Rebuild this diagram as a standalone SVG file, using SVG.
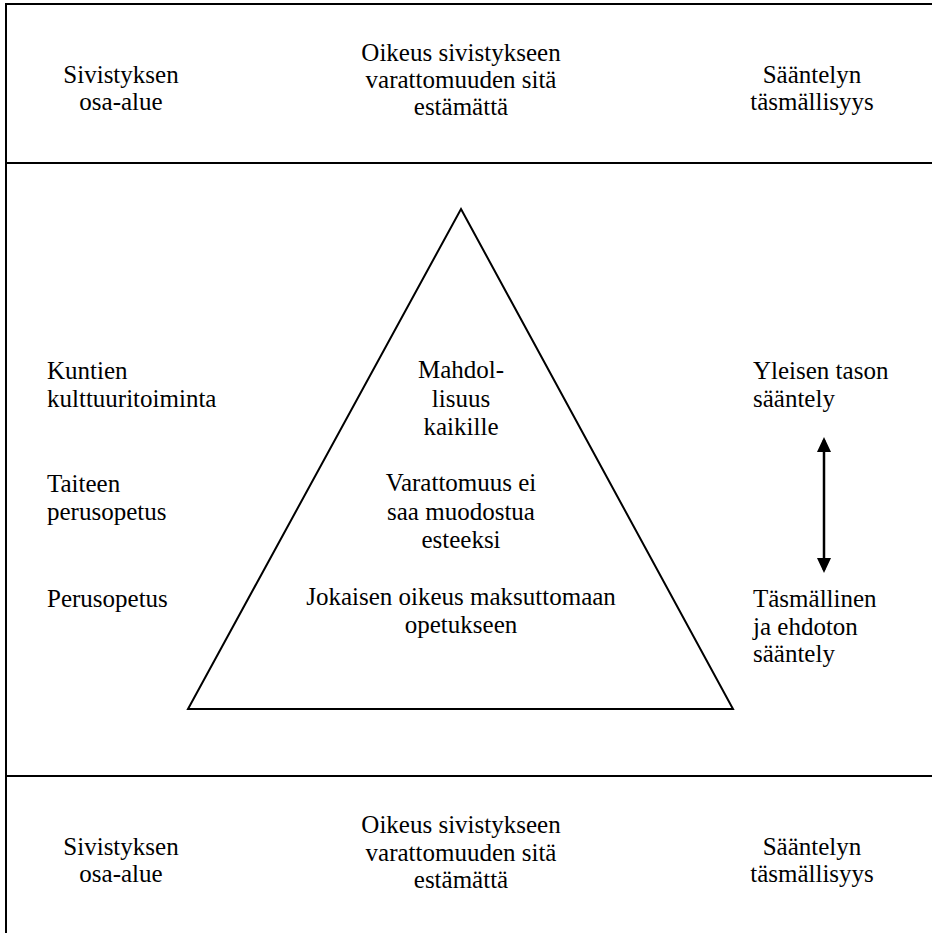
<svg xmlns="http://www.w3.org/2000/svg" width="932" height="933" viewBox="0 0 932 933">
  <defs>
    <style>
      text { font-family: 'Liberation Serif', 'DejaVu Serif', serif; font-size: 25px; fill: #000; }
      .c { text-anchor: middle; }
      .frame { stroke: #000; stroke-width: 2; fill: none; }
    </style>
    <marker id="ah" viewBox="0 0 15 14" markerUnits="userSpaceOnUse" markerWidth="15" markerHeight="14" refX="12" refY="7" orient="auto-start-reverse">
      <path d="M0,0 L15,7 L0,14 z" fill="#000"/>
    </marker>
  </defs>
  <rect x="0" y="0" width="932" height="933" fill="#fff"/>

  <g id="frame">
    <line class="frame" x1="6" y1="4" x2="932" y2="4"/>
    <line class="frame" x1="6" y1="3" x2="6" y2="933"/>
    <line class="frame" x1="6" y1="163" x2="932" y2="163"/>
    <line class="frame" x1="6" y1="776" x2="932" y2="776"/>
  </g>

  <g id="header-top" font-family="Liberation Serif, serif">
    <text class="c"><tspan x="121" y="83">Sivistyksen</tspan><tspan x="121" y="110">osa-alue</tspan></text>
    <text class="c"><tspan x="461" y="61">Oikeus sivistykseen</tspan><tspan x="461" y="88">varattomuuden sitä</tspan><tspan x="461" y="115">estämättä</tspan></text>
    <text class="c"><tspan x="812" y="83">Sääntelyn</tspan><tspan x="812" y="110">täsmällisyys</tspan></text>
  </g>

  <g id="header-bottom">
    <text class="c"><tspan x="121" y="855">Sivistyksen</tspan><tspan x="121" y="882">osa-alue</tspan></text>
    <text class="c"><tspan x="461" y="833">Oikeus sivistykseen</tspan><tspan x="461" y="861">varattomuuden sitä</tspan><tspan x="461" y="888">estämättä</tspan></text>
    <text class="c"><tspan x="812" y="855">Sääntelyn</tspan><tspan x="812" y="882">täsmällisyys</tspan></text>
  </g>

  <g id="pyramid">
    <polygon points="461,209 733,709 188,709" fill="none" stroke="#000" stroke-width="2"/>
    <text class="c"><tspan x="461" y="378">Mahdol-</tspan><tspan x="461" y="407">lisuus</tspan><tspan x="461" y="435">kaikille</tspan></text>
    <text class="c"><tspan x="461" y="491">Varattomuus ei</tspan><tspan x="461" y="520">saa muodostua</tspan><tspan x="461" y="548">esteeksi</tspan></text>
    <text class="c"><tspan x="461" y="605">Jokaisen oikeus maksuttomaan</tspan><tspan x="461" y="633">opetukseen</tspan></text>
  </g>

  <g id="left-labels">
    <text><tspan x="47" y="379">Kuntien</tspan><tspan x="47" y="407">kulttuuritoiminta</tspan></text>
    <text><tspan x="47" y="492">Taiteen</tspan><tspan x="47" y="520">perusopetus</tspan></text>
    <text><tspan x="47" y="607">Perusopetus</tspan></text>
  </g>

  <g id="right-labels">
    <text><tspan x="753" y="379">Yleisen tason</tspan><tspan x="753" y="407">sääntely</tspan></text>
    <text><tspan x="753" y="607">Täsmällinen</tspan><tspan x="753" y="635">ja ehdoton</tspan><tspan x="753" y="662">sääntely</tspan></text>
  </g>

  <g id="connectors">
    <line x1="824" y1="440" x2="824" y2="570" stroke="#000" stroke-width="2.5" marker-start="url(#ah)" marker-end="url(#ah)"/>
  </g>
</svg>
